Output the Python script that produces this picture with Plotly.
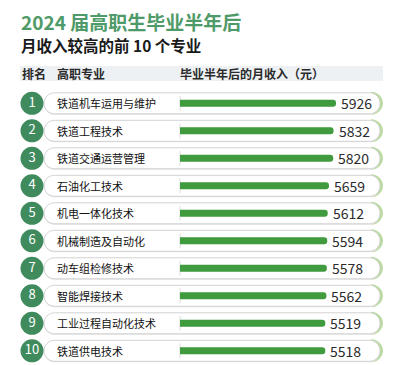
import plotly.graph_objects as go

ranks = [1, 2, 3, 4, 5, 6, 7, 8, 9, 10]
majors = ["铁道机车运用与维护", "铁道工程技术", "铁道交通运营管理", "石油化工技术",
          "机电一体化技术", "机械制造及自动化", "动车组检修技术", "智能焊接技术",
          "工业过程自动化技术", "铁道供电技术"]
incomes = [5926, 5832, 5820, 5659, 5612, 5594, 5578, 5562, 5519, 5518]

title_text = "2024 届高职生毕业半年后"
subtitle_text = "月收入较高的前 10 个专业"
header_rank = "排名"
header_major = "高职专业"
header_income = "毕业半年后的月收入（元）"

OFF = 8                 # page body margin in the browser
W, H = 400 - OFF, 365 - OFF
FONT = "Noto Sans CJK SC"
X0PX = 180.0           # window pixel where income 0 sits
U = 5926 / 156.0        # income units per pixel
Y0PX = 103.3            # window pixel centre of first row
ROWPX = 27.5            # pixels per row


def px2x(p):
    return (p - X0PX) * U


def py2y(p):
    return (p - Y0PX) / ROWPX


def pxp(p):
    return (p - OFF) / W


def pyp(p):
    return 1 - (p - OFF) / H


def rounded_rect(l, t, r, b, rad):
    k = 0.5523 * rad
    pts = [
        f"M{px2x(l + rad)},{py2y(t)}",
        f"L{px2x(r - rad)},{py2y(t)}",
        f"C{px2x(r - rad + k)},{py2y(t)} {px2x(r)},{py2y(t + rad - k)} {px2x(r)},{py2y(t + rad)}",
        f"L{px2x(r)},{py2y(b - rad)}",
        f"C{px2x(r)},{py2y(b - rad + k)} {px2x(r - rad + k)},{py2y(b)} {px2x(r - rad)},{py2y(b)}",
        f"L{px2x(l + rad)},{py2y(b)}",
        f"C{px2x(l + rad - k)},{py2y(b)} {px2x(l)},{py2y(b - rad + k)} {px2x(l)},{py2y(b - rad)}",
        f"L{px2x(l)},{py2y(t + rad)}",
        f"C{px2x(l)},{py2y(t + rad - k)} {px2x(l + rad - k)},{py2y(t)} {px2x(l + rad)},{py2y(t)}",
        "Z",
    ]
    return " ".join(pts)


def right_arc(r, t, b, rad):
    k = 0.5523 * rad
    return (f"M{px2x(r - rad)},{py2y(t)} "
            f"C{px2x(r - rad + k)},{py2y(t)} {px2x(r)},{py2y(t + rad - k)} {px2x(r)},{py2y(t + rad)} "
            f"L{px2x(r)},{py2y(b - rad)} "
            f"C{px2x(r)},{py2y(b - rad + k)} {px2x(r - rad + k)},{py2y(b)} {px2x(r - rad)},{py2y(b)}")


rows = list(range(len(majors)))
fig = go.Figure()

shapes = []
# header band
shapes.append(dict(type="rect", xref="paper", yref="paper",
                   x0=pxp(20), x1=pxp(383), y0=pyp(81), y1=pyp(66),
                   fillcolor="#eef1f4", line=dict(width=0), layer="below"))
for i in rows:
    cy = Y0PX + ROWPX * i
    t, b = cy - 10.5, cy + 10.5
    # green crescent on the right
    shapes.append(dict(type="path", xref="x", yref="y",
                       path=right_arc(381.5, t + 0.5, b - 0.5, 10.5),
                       line=dict(color="#b9dba0", width=3), layer="below"))
    # subtle shadow
    shapes.append(dict(type="path", xref="x", yref="y",
                       path=rounded_rect(44, t + 1, 380, b + 1, 10.5),
                       fillcolor="#e6e6e6", line=dict(width=0), layer="below"))
    # pill
    shapes.append(dict(type="path", xref="x", yref="y",
                       path=rounded_rect(44, t, 380, b, 10.5),
                       fillcolor="#ffffff", line=dict(color="#d2d2d2", width=1), layer="below"))
    # thin divider at bar start
    shapes.append(dict(type="line", xref="x", yref="y",
                       x0=0, x1=0, y0=py2y(t + 3), y1=py2y(b - 3),
                       line=dict(color="#dddddd", width=1), layer="below"))

fig.add_trace(go.Bar(
    x=incomes, y=rows, orientation="h", width=7 / ROWPX,
    marker=dict(color="#3f9b3d", line=dict(width=0)),
    hoverinfo="skip", showlegend=False,
))

fig.add_trace(go.Scatter(
    x=[px2x(32)] * len(ranks), y=rows, mode="markers+text",
    marker=dict(size=23, color="#3f8b5d", line=dict(width=0)),
    text=[str(r) for r in ranks], textposition="middle center",
    textfont=dict(family=FONT, size=13, color="#ffffff"),
    hoverinfo="skip", showlegend=False,
))

annotations = []
annotations.append(dict(text="<b>" + title_text + "</b>", xref="paper", yref="paper",
                        x=pxp(19), y=pyp(22), xanchor="left", yanchor="middle",
                        showarrow=False, font=dict(family=FONT, size=19, color="#4e9a68")))
annotations.append(dict(text="<b>" + subtitle_text + "</b>", xref="paper", yref="paper",
                        x=pxp(19), y=pyp(45), xanchor="left", yanchor="middle",
                        showarrow=False, font=dict(family=FONT, size=15.5, color="#1a1a1a")))
for txt, px in [(header_rank, 20), (header_major, 55), (header_income, 178)]:
    annotations.append(dict(text="<b>" + txt + "</b>", xref="paper", yref="paper",
                            x=pxp(px), y=pyp(73.5), xanchor="left", yanchor="middle",
                            showarrow=False, font=dict(family=FONT, size=12, color="#2a2a2a")))
for i, (m, v) in enumerate(zip(majors, incomes)):
    annotations.append(dict(text=m, xref="x", yref="y", x=px2x(55), y=i,
                            xanchor="left", yanchor="middle", showarrow=False,
                            font=dict(family=FONT, size=11, color="#111111")))
    annotations.append(dict(text=str(v), xref="x", yref="y", x=v, y=i, xshift=3,
                            xanchor="left", yanchor="middle", showarrow=False,
                            font=dict(family=FONT, size=14, color="#2b2b2b")))

fig.update_layout(
    width=W, height=H, margin=dict(l=0, r=0, t=0, b=0),
    paper_bgcolor="#ffffff", plot_bgcolor="#ffffff",
    barcornerradius=4,
    xaxis=dict(range=[px2x(OFF), px2x(OFF + W)], visible=False, fixedrange=True),
    yaxis=dict(range=[py2y(OFF + H), py2y(OFF)], visible=False, fixedrange=True),
    shapes=shapes, annotations=annotations,
    showlegend=False,
)

fig.write_html("out.html")
